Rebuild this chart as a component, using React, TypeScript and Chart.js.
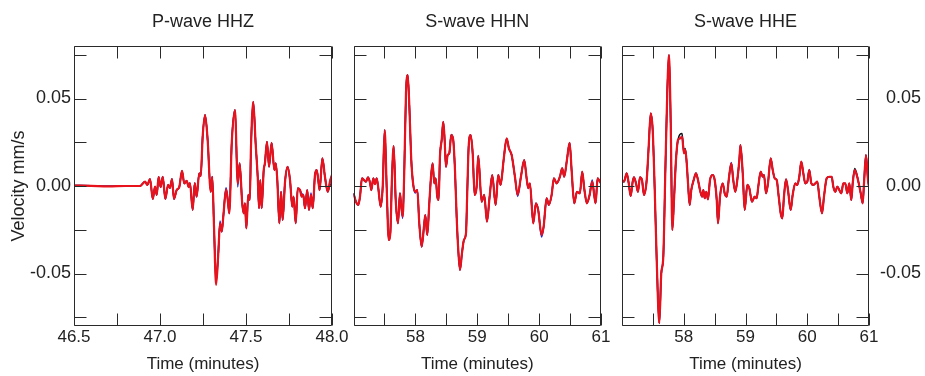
import { useEffect, useRef } from 'react';
import { Chart, registerables } from 'chart.js';

Chart.register(...registerables);

const FONT = '"Liberation Sans", Arial, Helvetica, sans-serif';
const TEXT = '#222222';
const RED = '#e8121c';
const BLUE = '#2424c8';
const BLACK = '#111111';

// ---------- P-wave HHZ ----------
const hhzTime = [
  46.5, 46.6, 46.7, 46.8, 46.884, 46.913, 46.926, 46.942, 46.958, 46.971,
  46.981, 46.992, 47.004, 47.016, 47.031, 47.047, 47.058, 47.070, 47.081, 47.097,
  47.112, 47.128, 47.141, 47.155, 47.167, 47.174, 47.190, 47.202, 47.213, 47.228,
  47.237, 47.248, 47.262, 47.277, 47.295, 47.304, 47.314, 47.326, 47.339, 47.349,
  47.359, 47.368, 47.384, 47.394, 47.403, 47.417, 47.436, 47.452, 47.463, 47.478,
  47.487, 47.494, 47.502, 47.513, 47.522, 47.529, 47.542, 47.556, 47.568, 47.576,
  47.583, 47.591, 47.603, 47.610, 47.622, 47.634, 47.649, 47.665, 47.673, 47.682,
  47.694, 47.704, 47.713, 47.727, 47.742, 47.756, 47.769, 47.777, 47.789, 47.801,
  47.814, 47.824, 47.833, 47.843, 47.856, 47.866, 47.878, 47.888, 47.901, 47.911,
  47.920, 47.928, 47.944, 47.959, 47.975, 47.990, 48.0,
];
const hhzRed = [
  0.0003, 0.0001, -0.0002, 0.0000, 0.0000, 0.0025, 0.0006, 0.0040, -0.0074, -0.0004,
  -0.0051, 0.0051, -0.0006, 0.0053, -0.0074, 0.0006, -0.0011, 0.0040, -0.0074, -0.0023,
  -0.0006, 0.0086, 0.0015, 0.0030, -0.0006, 0.0017, -0.0137, 0.0017, -0.0061, 0.0073,
  0.0057, 0.0281, 0.0405, 0.0263, -0.0033, 0.0053, -0.0232, -0.0565, -0.0384, -0.0213,
  -0.0261, -0.0175, -0.0019, -0.0080, -0.0156, 0.0244, 0.0434, 0.0015, 0.0130, -0.0099,
  -0.0156, -0.0099, -0.0242, -0.0051, -0.0080, 0.0224, 0.0481, 0.0244, 0.0053, -0.0127,
  0.0034, -0.0127, 0.0091, 0.0130, 0.0253, 0.0110, 0.0247, 0.0091, 0.0130, 0.0034,
  -0.0213, -0.0033, -0.0194, 0.0025, 0.0110, 0.0034, -0.0118, -0.0061, -0.0213, -0.0013,
  -0.0023, -0.0061, -0.0051, -0.0127, -0.0023, -0.0137, -0.0051, -0.0127, 0.0063, 0.0091,
  0.0034, -0.0023, 0.0158, 0.0053, -0.0033, 0.0034, 0.0063,
];
const hhzBlue = [
  0.0003, 0.0001, -0.0002, 0.0000, 0.0000, 0.0025, 0.0006, 0.0040, -0.0074, -0.0004,
  -0.0051, 0.0051, -0.0006, 0.0053, -0.0074, 0.0006, -0.0011, 0.0040, -0.0074, -0.0023,
  -0.0006, 0.0086, 0.0015, 0.0030, -0.0006, 0.0017, -0.0137, 0.0017, -0.0061, 0.0073,
  0.0057, 0.0281, 0.0405, 0.0263, -0.0033, 0.0053, -0.0232, -0.0525, -0.0384, -0.0200,
  -0.0261, -0.0175, -0.0010, -0.0080, -0.0156, 0.0244, 0.0434, -0.0005, 0.0130, -0.0099,
  -0.0156, -0.0099, -0.0242, -0.0051, -0.0080, 0.0224, 0.0481, 0.0244, 0.0053, -0.0127,
  0.0034, -0.0127, 0.0091, 0.0130, 0.0253, 0.0110, 0.0247, 0.0091, 0.0130, 0.0034,
  -0.0213, -0.0033, -0.0194, 0.0025, 0.0110, 0.0034, -0.0118, -0.0061, -0.0213, -0.0013,
  -0.0023, -0.0045, -0.0051, -0.0127, -0.0023, -0.0137, -0.0040, -0.0127, 0.0063, 0.0091,
  0.0034, -0.0023, 0.0158, 0.0053, -0.0033, 0.0034, 0.0063,
];
const hhzBlack = [
  0.0003, 0.0001, -0.0002, 0.0000, 0.0000, 0.0025, 0.0006, 0.0040, -0.0074, -0.0004,
  -0.0051, 0.0051, -0.0006, 0.0053, -0.0074, 0.0006, -0.0011, 0.0040, -0.0074, -0.0023,
  -0.0006, 0.0086, 0.0015, 0.0030, -0.0006, 0.0017, -0.0137, 0.0017, -0.0061, 0.0073,
  0.0057, 0.0281, 0.0405, 0.0263, -0.0033, 0.0053, -0.0232, -0.0550, -0.0384, -0.0213,
  -0.0261, -0.0175, -0.0019, -0.0080, -0.0156, 0.0244, 0.0434, 0.0015, 0.0130, -0.0099,
  -0.0156, -0.0099, -0.0242, -0.0051, -0.0080, 0.0224, 0.0481, 0.0244, 0.0053, -0.0127,
  0.0034, -0.0127, 0.0091, 0.0130, 0.0253, 0.0110, 0.0247, 0.0091, 0.0130, 0.0034,
  -0.0213, -0.0033, -0.0194, 0.0025, 0.0110, 0.0034, -0.0118, -0.0061, -0.0213, -0.0013,
  -0.0023, -0.0061, -0.0051, -0.0127, -0.0023, -0.0137, -0.0051, -0.0127, 0.0063, 0.0091,
  0.0034, -0.0023, 0.0158, 0.0053, -0.0033, 0.0010, 0.0000,
];

// ---------- S-wave HHN ----------
const hhnTime = [
  57.0, 57.040, 57.078, 57.105, 57.137, 57.170, 57.202, 57.234, 57.267, 57.288,
  57.320, 57.347, 57.375, 57.401, 57.439, 57.472, 57.504, 57.536, 57.569, 57.595,
  57.622, 57.649, 57.682, 57.719, 57.751, 57.767, 57.795, 57.821, 57.848, 57.876,
  57.901, 57.934, 57.966, 57.998, 58.031, 58.063, 58.102, 58.139, 58.160, 58.192,
  58.225, 58.257, 58.279, 58.305, 58.328, 58.354, 58.376, 58.397, 58.425, 58.451,
  58.473, 58.494, 58.522, 58.548, 58.580, 58.612, 58.640, 58.667, 58.693, 58.721,
  58.753, 58.785, 58.818, 58.838, 58.861, 58.893, 58.926, 58.958, 58.990, 59.016,
  59.071, 59.113, 59.157, 59.200, 59.242, 59.297, 59.339, 59.378, 59.426, 59.475,
  59.512, 59.556, 59.609, 59.653, 59.706, 59.759, 59.798, 59.824, 59.851, 59.905,
  59.948, 59.985, 60.040, 60.073, 60.121, 60.158, 60.202, 60.239, 60.283, 60.336,
  60.373, 60.405, 60.449, 60.493, 60.525, 60.567, 60.611, 60.659, 60.696, 60.729,
  60.772, 60.816, 60.858, 60.890, 60.913, 60.945, 60.966, 61.0,
];
const hhnRed = [
  -0.0042, -0.0090, -0.0108, -0.0061, 0.0044, 0.0034, 0.0025, 0.0050, 0.0019, -0.0023,
  0.0044, 0.0011, 0.0044, -0.0013, -0.0118, -0.0004, 0.0320, -0.0004, -0.0308, -0.0270,
  0.0053, 0.0228, -0.0080, -0.0213, -0.0042, -0.0099, -0.0175, 0.0091, 0.0530, 0.0634,
  0.0470, 0.0148, 0.0006, -0.0033, -0.0023, -0.0213, -0.0347, -0.0232, -0.0166, -0.0280,
  -0.0099, 0.0073, 0.0130, 0.0015, 0.0044, -0.0061, -0.0080, 0.0167, 0.0263, 0.0367,
  0.0263, 0.0110, 0.0177, 0.0187, 0.0291, 0.0263, 0.0091, -0.0175, -0.0365, -0.0480,
  -0.0384, -0.0308, -0.0270, -0.0042, 0.0224, 0.0291, 0.0187, -0.0051, -0.0004, 0.0172,
  -0.0090, -0.0051, -0.0204, -0.0061, 0.0063, -0.0108, 0.0063, 0.0006, 0.0148, 0.0272,
  0.0215, 0.0177, 0.0053, -0.0051, 0.0053, 0.0148, 0.0044, -0.0013, 0.0015, -0.0213,
  -0.0099, -0.0137, -0.0280, -0.0232, -0.0070, -0.0108, -0.0051, 0.0044, 0.0015, 0.0053,
  0.0101, 0.0053, 0.0148, 0.0247, 0.0091, -0.0099, -0.0033, -0.0042, 0.0082, -0.0013,
  -0.0099, -0.0051, 0.0025, -0.0051, -0.0099, 0.0044, 0.0034, 0.0015,
];
const hhnBlue = [
  -0.0042, -0.0090, -0.0108, -0.0061, 0.0044, 0.0034, 0.0025, 0.0050, 0.0019, -0.0023,
  0.0044, 0.0011, 0.0044, -0.0013, -0.0118, -0.0004, 0.0320, -0.0004, -0.0308, -0.0270,
  0.0053, 0.0228, -0.0080, -0.0213, -0.0042, -0.0099, -0.0185, 0.0091, 0.0530, 0.0634,
  0.0470, 0.0148, 0.0006, -0.0040, -0.0023, -0.0213, -0.0347, -0.0232, -0.0166, -0.0280,
  -0.0099, 0.0073, 0.0130, 0.0015, 0.0044, -0.0061, -0.0080, 0.0167, 0.0263, 0.0367,
  0.0263, 0.0110, 0.0177, 0.0187, 0.0291, 0.0263, 0.0091, -0.0175, -0.0365, -0.0480,
  -0.0384, -0.0308, -0.0270, -0.0042, 0.0224, 0.0291, 0.0187, -0.0051, -0.0004, 0.0172,
  -0.0090, -0.0051, -0.0204, -0.0061, 0.0063, -0.0108, 0.0063, 0.0006, 0.0148, 0.0272,
  0.0215, 0.0177, 0.0053, -0.0060, 0.0053, 0.0148, 0.0044, -0.0013, 0.0015, -0.0213,
  -0.0099, -0.0137, -0.0292, -0.0232, -0.0070, -0.0108, -0.0051, 0.0044, 0.0015, 0.0053,
  0.0101, 0.0053, 0.0148, 0.0247, 0.0091, -0.0099, -0.0033, -0.0042, 0.0082, -0.0013,
  -0.0099, -0.0051, 0.0035, -0.0051, -0.0099, 0.0044, 0.0034, 0.0025,
];
const hhnBlack = [
  -0.0042, -0.0090, -0.0108, -0.0061, 0.0044, 0.0034, 0.0025, 0.0050, 0.0019, -0.0023,
  0.0044, 0.0011, 0.0044, -0.0013, -0.0118, -0.0004, 0.0320, -0.0004, -0.0308, -0.0270,
  0.0053, 0.0228, -0.0080, -0.0213, -0.0042, -0.0099, -0.0175, 0.0091, 0.0530, 0.0634,
  0.0470, 0.0148, 0.0006, -0.0033, -0.0023, -0.0213, -0.0347, -0.0232, -0.0166, -0.0280,
  -0.0099, 0.0073, 0.0130, 0.0015, 0.0044, -0.0061, -0.0080, 0.0167, 0.0263, 0.0367,
  0.0263, 0.0110, 0.0177, 0.0187, 0.0295, 0.0263, 0.0091, -0.0175, -0.0365, -0.0480,
  -0.0384, -0.0308, -0.0270, -0.0042, 0.0224, 0.0291, 0.0187, -0.0051, -0.0004, 0.0172,
  -0.0090, -0.0051, -0.0204, -0.0061, 0.0063, -0.0108, 0.0063, 0.0006, 0.0148, 0.0272,
  0.0215, 0.0177, 0.0053, -0.0051, 0.0053, 0.0148, 0.0044, -0.0013, 0.0015, -0.0213,
  -0.0099, -0.0137, -0.0280, -0.0232, -0.0070, -0.0108, -0.0051, 0.0044, 0.0015, 0.0053,
  0.0101, 0.0053, 0.0148, 0.0247, 0.0091, -0.0099, -0.0033, -0.0042, 0.0082, -0.0013,
  -0.0099, -0.0051, 0.0025, -0.0051, -0.0099, 0.0044, 0.0034, 0.0015,
];

// ---------- S-wave HHE ----------
const hheTime = [
  57.0, 57.032, 57.076, 57.109, 57.141, 57.173, 57.194, 57.227, 57.259, 57.291,
  57.324, 57.356, 57.400, 57.432, 57.465, 57.497, 57.530, 57.562, 57.604, 57.636,
  57.669, 57.701, 57.734, 57.761, 57.789, 57.815, 57.842, 57.874, 57.907, 57.939,
  57.972, 58.004, 58.025, 58.048, 58.069, 58.096, 58.122, 58.161, 58.198, 58.231,
  58.263, 58.296, 58.317, 58.339, 58.365, 58.393, 58.425, 58.469, 58.501, 58.534,
  58.555, 58.587, 58.631, 58.663, 58.696, 58.728, 58.770, 58.802, 58.835, 58.867,
  58.900, 58.918, 58.955, 58.987, 59.029, 59.062, 59.105, 59.149, 59.181, 59.207,
  59.246, 59.279, 59.300, 59.332, 59.364, 59.408, 59.441, 59.473, 59.505, 59.538,
  59.570, 59.596, 59.623, 59.656, 59.688, 59.732, 59.764, 59.806, 59.839, 59.871,
  59.904, 59.936, 59.968, 60.001, 60.033, 60.066, 60.098, 60.130, 60.163, 60.195,
  60.239, 60.271, 60.315, 60.357, 60.396, 60.422, 60.454, 60.487, 60.519, 60.551,
  60.584, 60.616, 60.649, 60.681, 60.713, 60.736, 60.768, 60.801, 60.834, 60.866,
  60.898, 60.919, 60.951, 60.984, 61.0,
];
const hheRed = [
  0.0034, 0.0025, 0.0073, 0.0015, -0.0057, 0.0025, 0.0050, 0.0015, -0.0033, 0.0050,
  0.0034, -0.0051, 0.0034, 0.0224, 0.0415, 0.0320, -0.0023, -0.0423, -0.0784, -0.0500,
  -0.0404, 0.0073, 0.0548, 0.0748, 0.0358, -0.0251, -0.0080, 0.0148, 0.0263, 0.0272,
  0.0281, 0.0187, 0.0206, 0.0130, 0.0015, -0.0108, -0.0023, 0.0034, 0.0073, 0.0034,
  -0.0023, -0.0061, -0.0023, -0.0070, -0.0033, -0.0076, 0.0034, 0.0063, 0.0034, -0.0080,
  -0.0213, -0.0061, 0.0015, -0.0042, -0.0061, 0.0034, 0.0130, 0.0034, -0.0033, 0.0034,
  0.0148, 0.0234, 0.0073, -0.0137, 0.0006, -0.0013, -0.0090, -0.0061, -0.0070, -0.0004,
  0.0082, 0.0053, 0.0063, -0.0042, 0.0015, 0.0158, 0.0091, 0.0044, 0.0034, -0.0061,
  -0.0156, -0.0185, -0.0061, 0.0038, -0.0023, -0.0137, -0.0051, 0.0015, 0.0006, 0.0053,
  0.0139, 0.0073, 0.0015, 0.0025, 0.0091, 0.0015, 0.0006, 0.0015, 0.0025, -0.0061,
  -0.0156, -0.0061, 0.0044, 0.0053, 0.0053, -0.0004, -0.0033, -0.0004, -0.0023, -0.0042,
  0.0015, 0.0015, -0.0042, 0.0015, -0.0080, 0.0015, 0.0091, 0.0063, 0.0015, -0.0042,
  -0.0099, 0.0015, 0.0177, 0.0034, -0.0004,
];
const hheBlue = [
  0.0034, 0.0025, 0.0073, 0.0015, -0.0057, 0.0025, 0.0050, 0.0015, -0.0033, 0.0050,
  0.0034, -0.0051, 0.0034, 0.0224, 0.0415, 0.0320, -0.0023, -0.0423, -0.0784, -0.0500,
  -0.0404, 0.0073, 0.0548, 0.0748, 0.0358, -0.0251, -0.0080, 0.0148, 0.0263, 0.0272,
  0.0285, 0.0187, 0.0206, 0.0130, 0.0015, -0.0108, -0.0023, 0.0034, 0.0073, 0.0034,
  -0.0023, -0.0061, -0.0023, -0.0070, -0.0033, -0.0076, 0.0034, 0.0063, 0.0034, -0.0080,
  -0.0213, -0.0061, 0.0015, -0.0042, -0.0061, 0.0034, 0.0135, 0.0034, -0.0033, 0.0034,
  0.0148, 0.0234, 0.0073, -0.0137, 0.0006, -0.0013, -0.0090, -0.0061, -0.0070, -0.0004,
  0.0082, 0.0053, 0.0063, -0.0042, 0.0015, 0.0158, 0.0091, 0.0044, 0.0034, -0.0061,
  -0.0156, -0.0185, -0.0061, 0.0038, -0.0023, -0.0137, -0.0051, 0.0015, 0.0006, 0.0053,
  0.0139, 0.0073, 0.0015, 0.0025, 0.0095, 0.0015, 0.0006, 0.0015, 0.0025, -0.0061,
  -0.0156, -0.0061, 0.0044, 0.0053, 0.0053, -0.0004, -0.0033, -0.0004, -0.0023, -0.0042,
  0.0015, 0.0015, -0.0042, 0.0015, -0.0080, 0.0015, 0.0091, 0.0063, 0.0015, -0.0042,
  -0.0099, 0.0015, 0.0177, 0.0034, -0.0004,
];
const hheBlack = [
  0.0034, 0.0025, 0.0073, 0.0015, -0.0057, 0.0025, 0.0050, 0.0015, -0.0033, 0.0050,
  0.0034, -0.0051, 0.0034, 0.0224, 0.0415, 0.0320, -0.0023, -0.0423, -0.0784, -0.0500,
  -0.0404, 0.0073, 0.0548, 0.0748, 0.0358, -0.0251, -0.0080, 0.0148, 0.0263, 0.0295,
  0.0300, 0.0200, 0.0215, 0.0130, 0.0015, -0.0108, -0.0023, 0.0034, 0.0073, 0.0034,
  -0.0023, -0.0061, -0.0023, -0.0070, -0.0033, -0.0076, 0.0034, 0.0063, 0.0034, -0.0080,
  -0.0213, -0.0061, 0.0015, -0.0042, -0.0061, 0.0034, 0.0130, 0.0034, -0.0033, 0.0034,
  0.0148, 0.0234, 0.0073, -0.0137, 0.0006, -0.0013, -0.0090, -0.0061, -0.0070, -0.0004,
  0.0082, 0.0053, 0.0063, -0.0042, 0.0015, 0.0158, 0.0091, 0.0044, 0.0034, -0.0061,
  -0.0156, -0.0185, -0.0061, 0.0038, -0.0023, -0.0137, -0.0051, 0.0015, 0.0006, 0.0053,
  0.0139, 0.0073, 0.0015, 0.0025, 0.0091, 0.0015, 0.0006, 0.0015, 0.0025, -0.0061,
  -0.0156, -0.0061, 0.0044, 0.0053, 0.0053, -0.0004, -0.0033, -0.0004, -0.0023, -0.0042,
  0.0015, 0.0015, -0.0042, 0.0015, -0.0080, 0.0015, 0.0100, 0.0070, 0.0015, -0.0042,
  -0.0099, 0.0015, 0.0177, 0.0034, -0.0004,
];

// ---------- axes ----------
const yTicks = [-0.075, -0.05, -0.025, 0, 0.025, 0.05, 0.075];
const yTickLabels = ['', '-0.05', '', '0.00', '', '0.05', ''];
const hhzTicks = [46.5, 46.75, 47.0, 47.25, 47.5, 47.75, 48.0];
const hhzTickLabels = ['46.5', '', '47.0', '', '47.5', '', '48.0'];
const sTicks = [57, 57.5, 58, 58.5, 59, 59.5, 60, 60.5, 61];
const sTickLabels = ['', '', '58', '', '59', '', '60', '', '61'];

type PanelSpec = {
  key: string;
  title: string;
  time: number[];
  red: number[];
  blue: number[];
  black: number[];
  xMin: number;
  xMax: number;
  xTicks: number[];
  xLabels: string[];
  yMode: 'left' | 'none' | 'right';
  yWidth: number;
  padding: { left: number; right: number; top: number; bottom: number };
};

const panels: PanelSpec[] = [
  {
    key: 'hhz', title: 'P-wave HHZ', time: hhzTime, red: hhzRed, blue: hhzBlue, black: hhzBlack,
    xMin: 46.5, xMax: 48.0, xTicks: hhzTicks, xLabels: hhzTickLabels, yMode: 'left', yWidth: 74,
    padding: { left: 0, right: 593, top: 0, bottom: 0 },
  },
  {
    key: 'hhn', title: 'S-wave HHN', time: hhnTime, red: hhnRed, blue: hhnBlue, black: hhnBlack,
    xMin: 57, xMax: 61, xTicks: sTicks, xLabels: sTickLabels, yMode: 'none', yWidth: 0,
    padding: { left: 353.5, right: 324, top: 0, bottom: 0 },
  },
  {
    key: 'hhe', title: 'S-wave HHE', time: hheTime, red: hheRed, blue: hheBlue, black: hheBlack,
    xMin: 57, xMax: 61, xTicks: sTicks, xLabels: sTickLabels, yMode: 'right', yWidth: 52,
    padding: { left: 622, right: 4, top: 0, bottom: 0 },
  },
];

function pts(t: number[], v: number[]) {
  return t.map((x, i) => ({ x, y: v[i] }));
}

const TICK_LEN = 12;

const framePlugin = {
  id: 'frame',
  afterDatasetsDraw(chart: any) {
    const { ctx, chartArea: a, scales } = chart;
    const L = Math.round(a.left) + 0.5;
    const R = Math.round(a.right) - 0.5;
    const T = Math.round(a.top) + 0.5;
    const B = Math.round(a.bottom) - 0.5;
    ctx.save();
    ctx.strokeStyle = '#2a2a2a';
    ctx.lineWidth = 1;
    ctx.beginPath();
    ctx.rect(L, T, R - L, B - T);
    const xs = scales.x;
    for (const t of xs.ticks) {
      const p = Math.round(xs.getPixelForValue(t.value)) + 0.5;
      ctx.moveTo(p, B);
      ctx.lineTo(p, B - TICK_LEN);
      ctx.moveTo(p, T);
      ctx.lineTo(p, T + TICK_LEN);
    }
    const ys = scales.y;
    for (const t of ys.ticks) {
      const p = Math.round(ys.getPixelForValue(t.value)) + 0.5;
      ctx.moveTo(L, p);
      ctx.lineTo(L + TICK_LEN, p);
      ctx.moveTo(R, p);
      ctx.lineTo(R - TICK_LEN, p);
    }
    ctx.stroke();
    ctx.restore();
  },
};

function buildConfig(p: PanelSpec): any {
  const tickFont = { family: FONT, size: 17 };
  const line = (label: string, data: number[], color: string, width: number, order: number) => ({
    label,
    data: pts(p.time, data),
    borderColor: color,
    backgroundColor: color,
    borderWidth: width,
    order,
    pointRadius: 0,
    fill: false,
    tension: 0.4,
    cubicInterpolationMode: 'monotone',
  });
  return {
    type: 'line',
    data: {
      datasets: [
        line('red', p.red, RED, 2.2, 0),
        line('blue', p.blue, BLUE, 1.5, 1),
        line('black', p.black, BLACK, 1.5, 2),
      ],
    },
    options: {
      responsive: false,
      maintainAspectRatio: false,
      animation: false,
      events: [],
      layout: { padding: p.padding },
      plugins: {
        legend: { display: false },
        tooltip: { enabled: false },
        title: {
          display: true,
          text: p.title,
          fullSize: false,
          color: TEXT,
          font: { family: FONT, size: 18, weight: 'normal' },
          padding: { top: 11.2, bottom: 13.2 },
        },
      },
      scales: {
        x: {
          type: 'linear',
          position: 'bottom',
          min: p.xMin,
          max: p.xMax,
          grid: { display: false, drawTicks: false },
          border: { display: false },
          afterBuildTicks: (s: any) => {
            s.ticks = p.xTicks.map((v) => ({ value: v }));
          },
          afterFit: (s: any) => {
            s.height = 50;
          },
          ticks: {
            autoSkip: false,
            maxRotation: 0,
            minRotation: 0,
            padding: 1,
            color: TEXT,
            font: tickFont,
            callback: (_v: any, i: number) => p.xLabels[i],
          },
          title: {
            display: true,
            text: 'Time (minutes)',
            color: TEXT,
            font: tickFont,
            padding: { top: 0, bottom: 1 },
          },
        },
        y: {
          type: 'linear',
          display: p.yMode !== 'none',
          position: p.yMode === 'right' ? 'right' : 'left',
          min: -0.08,
          max: 0.08,
          grid: { display: false, drawTicks: false },
          border: { display: false },
          afterBuildTicks: (s: any) => {
            s.ticks = yTicks.map((v) => ({ value: v }));
          },
          afterFit: (s: any) => {
            s.width = p.yWidth;
          },
          ticks: {
            autoSkip: false,
            padding: 3,
            crossAlign: p.yMode === 'right' ? 'far' : 'near',
            color: TEXT,
            font: { family: FONT, size: 18 },
            callback: (_v: any, i: number) => yTickLabels[i],
          },
          title: {
            display: p.yMode === 'left',
            text: 'Velocity mm/s',
            color: TEXT,
            font: { family: FONT, size: 18 },
            padding: { top: 8, bottom: 0 },
          },
        },
      },
    },
    plugins: [framePlugin],
  };
}

function Panel({ spec }: { spec: PanelSpec }) {
  const ref = useRef<HTMLCanvasElement | null>(null);
  useEffect(() => {
    if (!ref.current) return;
    const chart = new Chart(ref.current, buildConfig(spec));
    return () => chart.destroy();
  }, [spec]);
  return (
    <canvas
      ref={ref}
      width={925}
      height={376}
      style={{ position: 'absolute', left: 0, top: 0, width: 925, height: 376 }}
    />
  );
}

export default function App() {
  return (
    <div
      style={{
        position: 'absolute',
        left: 0,
        top: 0,
        width: 925,
        height: 376,
        background: '#ffffff',
        overflow: 'hidden',
      }}
    >
      {panels.map((p) => (
        <Panel key={p.key} spec={p} />
      ))}
    </div>
  );
}
